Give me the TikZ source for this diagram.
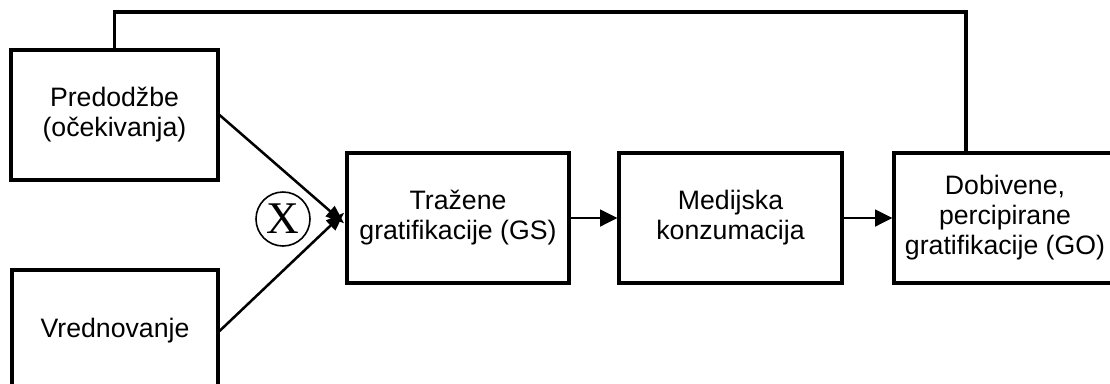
\documentclass[tikz,border=0pt]{standalone}
\usepackage{fontspec}
\setmainfont{Liberation Sans}
\newfontfamily\timesfont{Liberation Serif}
\usepackage{tikz}
\usetikzlibrary{positioning, arrows.meta}

\tikzset{
  box/.style={draw, line width=2.3pt, rectangle, align=center, inner sep=0pt,
    font=\fontsize{20}{22.5}\selectfont, minimum height=97.5pt},
  flow/.style={line width=1.9pt, -{Triangle[length=13pt,width=12.5pt]}},
  merge/.style={line width=1.9pt, -{Triangle[length=14pt,width=10pt]}},
}

\begin{document}
\begin{tikzpicture}[x=0.75pt,y=0.75pt,yscale=-1,xscale=1]
%set diagram left start at 0, and has height of 383
\clip (0,0) rectangle (1110,383);

%Shape: Rectangle [pred]
\node [box, minimum width=155.25pt] (pred) at (114.5,115) {Predodžbe\\(očekivanja)};
%Shape: Rectangle [vred]
\node [box, minimum width=154.5pt, minimum height=91.5pt] (vred) at (115,331) {Vrednovanje};
%Shape: Rectangle [gs]
\node [box, minimum width=166.5pt] (gs) at (458,218) {Tražene\\gratifikacije (GS)};
%Shape: Rectangle [med]
\node [box, minimum width=167.25pt] (med) at (730.5,218) {Medijska\\konzumacija};
%Shape: Rectangle [go]
\node [box, minimum width=166.5pt] (go) at (1005,218) {Dobivene,\\percipirane\\gratifikacije (GO)};

%Shape: Circle [mult]
\node [draw, circle, line width=1.2pt, minimum size=40.5pt, inner sep=0pt,
  font=\timesfont\fontsize{34}{34}\selectfont] (mult) at (283,219) {X};

%Straight Lines
\draw [merge] (pred.east) -- ([xshift=-1pt,yshift=4pt]gs.west);
\draw [merge] (vred.east) -- ([xshift=-1pt,yshift=-4pt]gs.west);
\draw [flow] (gs) -- (med);
\draw [flow] (med) -- (go);

%Straight Lines [feedback]
\coordinate (fb) at (966,12);
\draw [line width=2.3pt] (pred.north) |- (fb) -- (fb |- go.north);

\end{tikzpicture}
\end{document}
